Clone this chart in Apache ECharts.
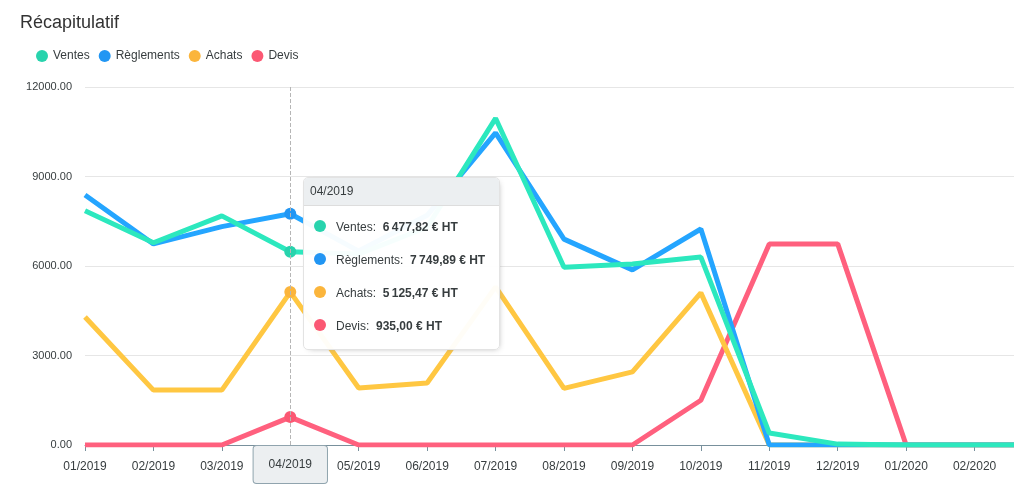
<!DOCTYPE html>
<html>
<head>
<meta charset="utf-8">
<script src="https://cdn.jsdelivr.net/npm/echarts@6/dist/echarts.min.js"></script>
<style>
  html, body { margin:0; padding:0; background:#fff; overflow:hidden; }
  #chart { width:1080px; height:503px; }
</style>
</head>
<body>
<div id="chart"></div>
<script>
const categories = ['01/2019','02/2019','03/2019','04/2019','05/2019','06/2019','07/2019','08/2019','09/2019','10/2019','11/2019','12/2019','01/2020','02/2020','03/2020'];
const ventes      = [7850, 6780, 7680, 6477.82, 6400, 7300, 10950, 5960, 6070, 6300, 400, 30, 0, 0, 0];
const reglements  = [8380, 6740, 7320, 7749.89, 6500, 7700, 10460, 6900, 5870, 7240, 0, 0, 0, 0, 0];
const achats      = [4290, 1840, 1840, 5125.47, 1910, 2080, 5300, 1900, 2450, 5100, 0, 0, 0, 0, 0];
const devis       = [0, 0, 0, 935.00, 0, 0, 0, 0, 0, 1500, 6740, 6740, 0, 0, 0];
const yTicks = { min: 0, max: 12000, interval: 3000 };
const seriesNames = ['Ventes', 'Règlements', 'Achats', 'Devis'];
const colors = ['#28d3ad', '#2196f3', '#fbb53c', '#fb5873'];

function fmt(v) {
  const s = v.toFixed(2).split('.');
  const int = s[0].replace(/\B(?=(\d{3})+(?!\d))/g, '\u2009');
  return int + ',' + s[1] + ' € HT';
}

const chart = echarts.init(document.getElementById('chart'));
const datas = [ventes, reglements, achats, devis];
const zs = [6, 5, 4, 3];

chart.setOption({
  animation: false,
  color: colors,
  textStyle: { fontFamily: 'Arial, "Liberation Sans", sans-serif' },
  title: {
    text: 'Récapitulatif', left: 15, top: 9,
    textStyle: { fontSize: 18, fontWeight: 'normal', color: '#333' }
  },
  legend: {
    left: 31, top: 45, icon: 'circle', itemWidth: 12, itemHeight: 12, itemGap: 9,
    textStyle: { fontSize: 12, color: '#373d3f' },
    data: seriesNames
  },
  grid: { left: 85, right: 37, top: 87, bottom: 58 },
  tooltip: {
    trigger: 'axis',
    alwaysShowContent: true,
    padding: 0,
    backgroundColor: 'rgba(255,255,255,0.96)',
    borderColor: '#e3e3e3',
    borderWidth: 1,
    extraCssText: 'border-radius:5px;box-shadow:2px 2px 6px -4px #999;overflow:hidden;',
    position: function () { return [303, 177]; },
    axisPointer: {
      type: 'line',
      lineStyle: { color: '#b6b6b6', type: 'dashed', width: 1 },
      label: {
        show: true, backgroundColor: '#eceff1', borderColor: '#90a4ae', borderWidth: 1,
        color: '#373d3f', fontSize: 12, padding: [13, 15, 12, 15], margin: 1,
        shadowBlur: 0
      }
    },
    formatter: function (params) {
      let h = '<div style="font-family:Arial,sans-serif;font-size:12px;color:#373d3f;width:195px;">';
      h += '<div style="background:#eceff1;border-bottom:1px solid #ddd;padding:6px 6px;height:15px;line-height:15px;">' + params[0].axisValue + '</div>';
      h += '<div style="padding:5px 0 6px 0;">';
      params.slice().sort((a,b)=>a.seriesIndex-b.seriesIndex).forEach(function (p) {
        h += '<div style="height:33px;line-height:33px;padding-left:10px;white-space:nowrap;">' +
          '<span style="display:inline-block;width:12px;height:12px;border-radius:6px;background:' + p.color + ';vertical-align:-1px;margin-right:10px;"></span>' +
          p.seriesName + ':&nbsp; <b>' + fmt(p.value) + '</b></div>';
      });
      h += '</div></div>';
      return h;
    }
  },
  xAxis: {
    type: 'category',
    data: categories,
    boundaryGap: false,
    axisLine: { lineStyle: { color: '#78909c', width: 1 } },
    axisTick: { show: true, alignWithLabel: true, length: 6, lineStyle: { color: '#78909c' } },
    axisLabel: { color: '#373d3f', fontSize: 12, margin: 16, interval: 0 },
    splitLine: { show: false }
  },
  yAxis: {
    type: 'value',
    min: yTicks.min, max: yTicks.max, interval: yTicks.interval,
    axisLine: { show: false }, axisTick: { show: false },
    axisLabel: { color: '#373d3f', fontSize: 11, margin: 13, formatter: v => v.toFixed(2) },
    splitLine: { lineStyle: { color: '#e6e6e6' } }
  },
  series: seriesNames.map((n, i) => ({
    name: n, type: 'line', data: datas[i], z: zs[i],
    showSymbol: false, symbol: 'circle', symbolSize: 12,
    lineStyle: { width: 5 },
    itemStyle: { color: colors[i], borderWidth: 0, borderColor: colors[i] },
    emphasis: { scale: false, lineStyle: { width: 5 }, itemStyle: { borderWidth: 0, borderColor: colors[i], color: colors[i] } }
  }))
});

chart.dispatchAction({ type: 'showTip', seriesIndex: 0, dataIndex: 3 });
</script>
</body>
</html>
